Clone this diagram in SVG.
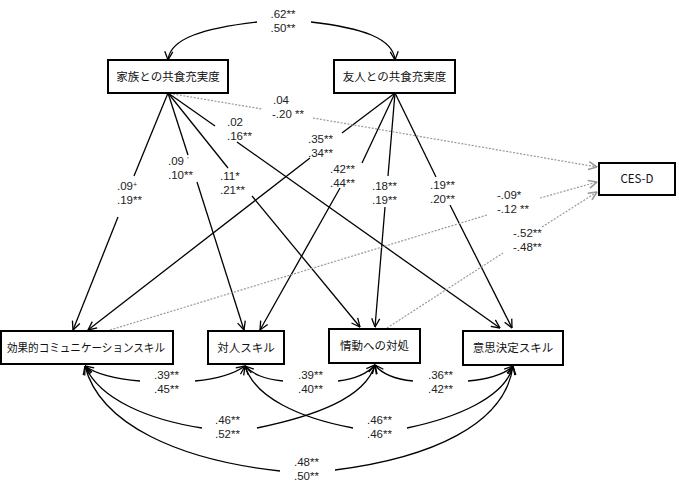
<svg xmlns="http://www.w3.org/2000/svg" width="679" height="491" viewBox="0 0 679 491">
<defs>
<marker id="ah" markerUnits="userSpaceOnUse" markerWidth="10" markerHeight="10" viewBox="0 0 10 10" refX="9.5" refY="5" orient="auto">
<path d="M1,1 L9.5,5 L1,9" fill="none" stroke="#000" stroke-width="1.3"/>
</marker>
<marker id="ahg" markerUnits="userSpaceOnUse" markerWidth="10" markerHeight="10" viewBox="0 0 10 10" refX="9.5" refY="5" orient="auto">
<path d="M1,1 L9.5,5 L1,9" fill="none" stroke="#999" stroke-width="1.6"/>
</marker>
</defs>
<style>
.box{fill:#fff;stroke:#000;stroke-width:2}
.bt{font-family:"Noto Sans CJK JP","Noto Sans",sans-serif;font-size:11.5px;fill:#111;text-anchor:middle}
.ln{fill:none;stroke:#000;stroke-width:1.3}
.la{fill:none;stroke:#000;stroke-width:1.3;marker-end:url(#ah)}
.dl{fill:none;stroke:#999;stroke-width:1.2;stroke-dasharray:2,1.5}
.da{fill:none;stroke:#999;stroke-width:1.2;stroke-dasharray:2,1.5;marker-end:url(#ahg)}
.lb{font-family:"Liberation Sans",Arial,sans-serif;font-size:11.5px;fill:#222}
.lc{font-family:"Liberation Sans",Arial,sans-serif;font-size:11.5px;fill:#222;text-anchor:middle}
</style>
<rect width="679" height="491" fill="#fff"/>

<g id="connectors">
<path class="la" d="M257,22 C205,28 170,38 168,60"/>
<path class="la" d="M311,22 C362,28 393,38 395,60"/>
<path class="ln" d="M168,93 L134,176"/><path class="la" d="M118,217 L73,330"/>
<path class="ln" d="M168,93 L188,155"/><path class="la" d="M197,182 L244,330"/>
<path class="ln" d="M168,93 L228,168"/><path class="la" d="M252,196 L360,327"/>
<path class="ln" d="M168,93 L215,126"/><path class="la" d="M237,142 L500,328"/>
<path class="ln" d="M395,93 L342,133"/><path class="la" d="M310,158 L88,330"/>
<path class="ln" d="M395,93 L362,163"/><path class="la" d="M340,188 L260,330"/>
<path class="ln" d="M395,93 L388,176"/><path class="la" d="M385,207 L375,327"/>
<path class="ln" d="M395,93 L436,177"/><path class="la" d="M450,205 L512,328"/>
<path class="dl" d="M173,94 L262,109"/><path class="da" d="M313,118 L597,167"/>
<path class="dl" d="M110,330 L487,215"/><path class="da" d="M540,198 L597,182"/>
<path class="dl" d="M387,328 L503,253"/><path class="da" d="M542,227 L597,192"/>
<path class="la" d="M140,381 C115,379 96,374 85,366"/><path class="la" d="M195,381 C215,379 234,374 245,366"/>
<path class="la" d="M283,381 C263,379 253,374 245,366"/><path class="la" d="M338,381 C355,379 367,374 375,365"/>
<path class="la" d="M413,381 C393,379 382,374 375,365"/><path class="la" d="M468,381 C488,379 505,374 513,366"/>
<path class="la" d="M202,428 C150,420 100,400 85,366"/><path class="la" d="M257,428 C315,416 365,398 375,365"/>
<path class="la" d="M353,428 C300,418 255,398 245,366"/><path class="la" d="M407,428 C455,418 505,398 513,366"/>
<path class="la" d="M280,471 C180,460 100,425 85,366"/><path class="la" d="M335,470 C430,458 505,425 513,366"/>
</g>

<g id="labels">
<text class="lc" x="283" y="18">.62**</text><text class="lc" x="283" y="32">.50**</text>
<text class="lb" x="273" y="104">.04</text><text class="lb" x="272" y="118">-.20 **</text>
<text class="lb" x="227" y="126">.02</text><text class="lb" x="227" y="140">.16**</text>
<text class="lb" x="117" y="190">.09<tspan font-size="7" dy="-3">+</tspan></text><text class="lb" x="117" y="204">.19**</text>
<text class="lb" x="168" y="165">.09 <tspan font-size="7" dy="-3">'</tspan></text><text class="lb" x="168" y="179">.10**</text>
<text class="lb" x="220" y="180">.11*</text><text class="lb" x="220" y="194">.21**</text>
<text class="lb" x="308" y="143">.35**</text><text class="lb" x="308" y="157">.34**</text>
<text class="lb" x="330" y="173">.42**</text><text class="lb" x="330" y="187">.44**</text>
<text class="lb" x="372" y="190">.18**</text><text class="lb" x="372" y="204">.19**</text>
<text class="lb" x="430" y="189">.19**</text><text class="lb" x="430" y="203">.20**</text>
<text class="lb" x="497" y="199">-.09*</text><text class="lb" x="497" y="213">-.12 **</text>
<text class="lb" x="513" y="237">-.52**</text><text class="lb" x="513" y="251">-.48**</text>
<text class="lb" x="154" y="379">.39**</text><text class="lb" x="154" y="393">.45**</text>
<text class="lb" x="298" y="379">.39**</text><text class="lb" x="298" y="393">.40**</text>
<text class="lb" x="428" y="379">.36**</text><text class="lb" x="428" y="393">.42**</text>
<text class="lb" x="215" y="424">.46**</text><text class="lb" x="215" y="438">.52**</text>
<text class="lb" x="367" y="424">.46**</text><text class="lb" x="367" y="438">.46**</text>
<text class="lb" x="294" y="466">.48**</text><text class="lb" x="294" y="480">.50**</text>
</g>

<g id="family"><rect class="box" x="108" y="60" width="120" height="33"/><text class="bt" x="168" y="81">家族との共食充実度</text></g>
<g id="friend"><rect class="box" x="334" y="60" width="121" height="33"/><text class="bt" x="394.5" y="81">友人との共食充実度</text></g>
<g id="cesd"><rect class="box" x="599" y="163" width="76" height="32"/><text class="bt" x="637" y="183" font-family="Liberation Sans, sans-serif">CES-D</text></g>
<g id="comm"><rect class="box" x="1" y="331" width="172" height="33"/><text class="bt" x="86" y="352" textLength="158" lengthAdjust="spacingAndGlyphs">効果的コミュニケーションスキル</text></g>
<g id="interpersonal"><rect class="box" x="208" y="331" width="76" height="33"/><text class="bt" x="246" y="352">対人スキル</text></g>
<g id="emotion"><rect class="box" x="329" y="329" width="91" height="34"/><text class="bt" x="374.5" y="350">情動への対処</text></g>
<g id="decision"><rect class="box" x="463" y="331" width="100" height="34"/><text class="bt" x="513" y="352">意思決定スキル</text></g>
</svg>
